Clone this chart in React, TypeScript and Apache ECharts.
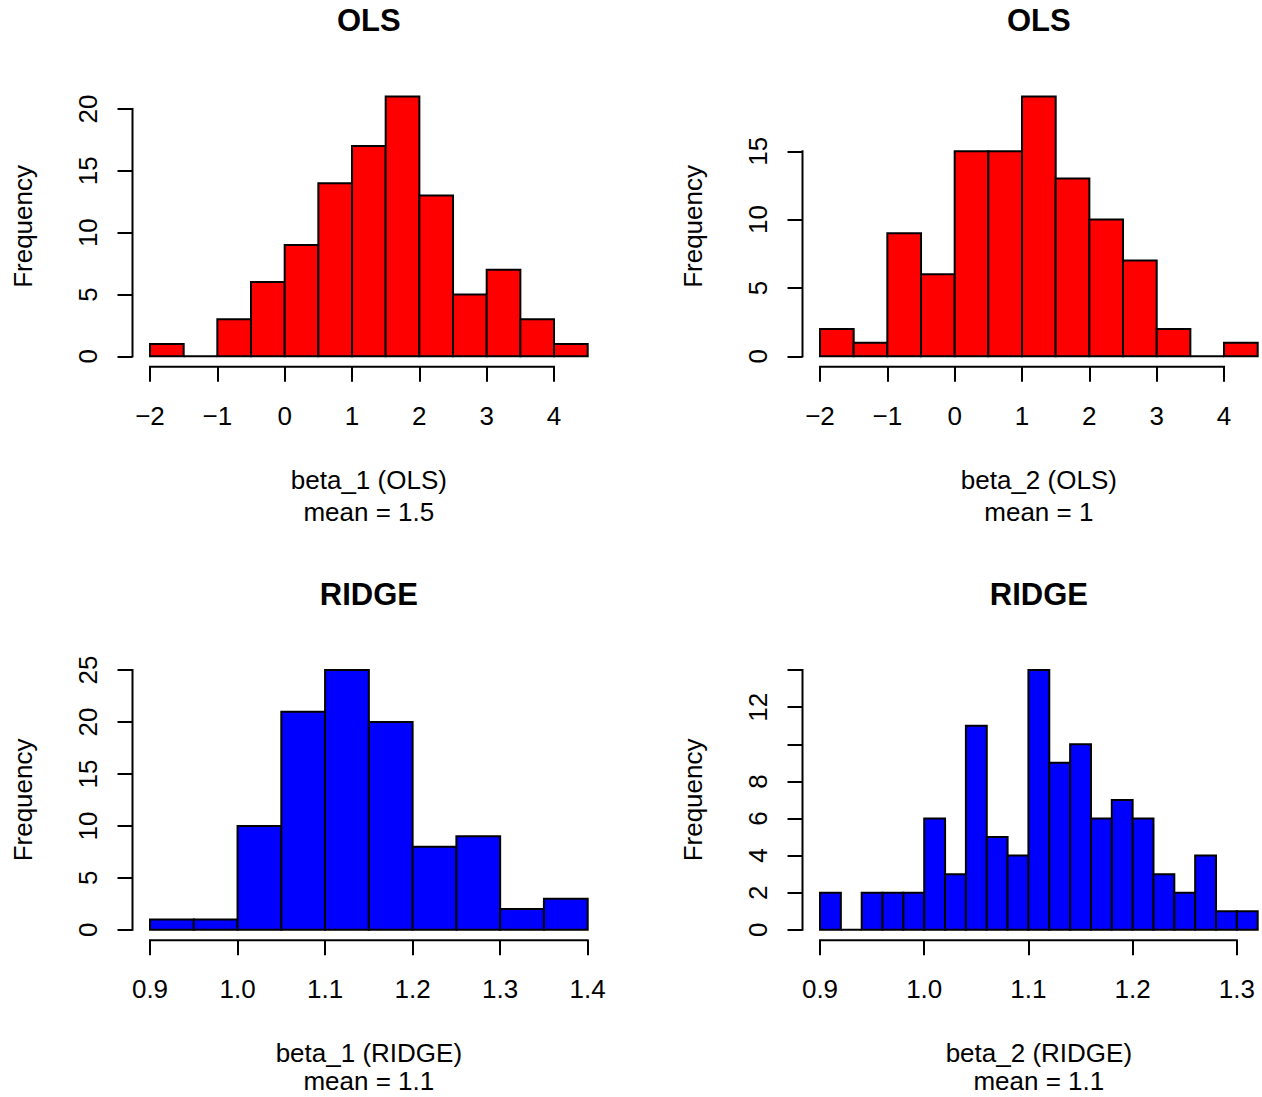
import React, { useEffect, useRef } from "react";
import * as echarts from "echarts";

// ---------- data ----------
const breaksB1Ols = [-2, -1.5, -1, -0.5, 0, 0.5, 1, 1.5, 2, 2.5, 3, 3.5, 4, 4.5];
const countsB1Ols = [1, 0, 3, 6, 9, 14, 17, 21, 13, 5, 7, 3, 1];

const breaksB2Ols = [-2, -1.5, -1, -0.5, 0, 0.5, 1, 1.5, 2, 2.5, 3, 3.5, 4, 4.5];
const countsB2Ols = [2, 1, 9, 6, 15, 15, 19, 13, 10, 7, 2, 0, 1];

const breaksB1Ridge = [0.9, 0.95, 1.0, 1.05, 1.1, 1.15, 1.2, 1.25, 1.3, 1.35, 1.4];
const countsB1Ridge = [1, 1, 10, 21, 25, 20, 8, 9, 2, 3];

const breaksB2Ridge = [0.9, 0.92, 0.94, 0.96, 0.98, 1.0, 1.02, 1.04, 1.06, 1.08, 1.1, 1.12, 1.14, 1.16, 1.18, 1.2, 1.22, 1.24, 1.26, 1.28, 1.3, 1.32];
const countsB2Ridge = [2, 0, 2, 2, 2, 6, 3, 11, 5, 4, 14, 9, 10, 6, 7, 6, 3, 2, 4, 1, 1];

const xTicksOls = [-2, -1, 0, 1, 2, 3, 4];
const xTicksB1Ridge = [0.9, 1.0, 1.1, 1.2, 1.3, 1.4];
const xTicksB2Ridge = [0.9, 1.0, 1.1, 1.2, 1.3];

const yTicksB1Ols = [0, 5, 10, 15, 20];
const yTicksB2Ols = [0, 5, 10, 15];
const yTicksB1Ridge = [0, 5, 10, 15, 20, 25];
const yTicksB2Ridge = [0, 2, 4, 6, 8, 10, 12, 14];
const yLabelsB2Ridge = [0, 2, 4, 6, 8, 12];

const titles = ["OLS", "OLS", "RIDGE", "RIDGE"];
const xNames = ["beta_1 (OLS)", "beta_2 (OLS)", "beta_1 (RIDGE)", "beta_2 (RIDGE)"];
const meanTexts = ["mean = 1.5", "mean = 1", "mean = 1.1", "mean = 1.1"];
const colors = ["#FF0000", "#FF0000", "#0000FF", "#0000FF"];

const FONT = "'Liberation Sans', Arial, Helvetica, sans-serif";

type Panel = {
  breaks: number[];
  counts: number[];
  xTicks: number[];
  xDec: number;
  yTicks: number[];
  yLabels: number[];
};

const panels: Panel[] = [
  { breaks: breaksB1Ols, counts: countsB1Ols, xTicks: xTicksOls, xDec: 0, yTicks: yTicksB1Ols, yLabels: yTicksB1Ols },
  { breaks: breaksB2Ols, counts: countsB2Ols, xTicks: xTicksOls, xDec: 0, yTicks: yTicksB2Ols, yLabels: yTicksB2Ols },
  { breaks: breaksB1Ridge, counts: countsB1Ridge, xTicks: xTicksB1Ridge, xDec: 1, yTicks: yTicksB1Ridge, yLabels: yTicksB1Ridge },
  { breaks: breaksB2Ridge, counts: countsB2Ridge, xTicks: xTicksB2Ridge, xDec: 1, yTicks: yTicksB2Ridge, yLabels: yLabelsB2Ridge },
];

const gridPos = [
  { left: 132.5, top: 86.2 },
  { left: 802.5, top: 86.2 },
  { left: 132.5, top: 659.7 },
  { left: 802.5, top: 659.7 },
];
const GW = 472.7;
const GH = 280.5;
const PAGE_H = 1097;

function fmt(v: number, dec: number) {
  const s = Math.abs(v).toFixed(dec);
  return (v < 0 ? "\u2212" : "") + s;
}

export default function App() {
  const ref = useRef<HTMLDivElement>(null);
  useEffect(() => {
    document.body.style.margin = "0";
    document.body.style.overflow = "hidden";
    if (!ref.current) return;
    const chart = echarts.init(ref.current, undefined, { renderer: "svg" });

    const grid: any[] = [];
    const xAxis: any[] = [];
    const yAxis: any[] = [];
    const series: any[] = [];
    const title: any[] = [];

    panels.forEach((p, i) => {
      const b0 = p.breaks[0];
      const bn = p.breaks[p.breaks.length - 1];
      const xr = bn - b0;
      const xmin = b0 - 0.04 * xr;
      const xmax = bn + 0.04 * xr;
      const cmax = Math.max(...p.counts);
      const ymin = -0.04 * cmax;
      const ymax = cmax * 1.04;

      grid.push({
        left: gridPos[i].left,
        top: gridPos[i].top,
        width: GW,
        height: GH,
        containLabel: false,
        outerBoundsMode: "none",
      });

      xAxis.push({
        gridIndex: i,
        type: "value",
        min: xmin,
        max: xmax,
        axisLine: { show: false, onZero: false },
        splitLine: { show: false },
        axisTick: {
          show: true,
          customValues: p.xTicks,
          length: 15,
          inside: false,
          lineStyle: { color: "#000", width: 2 },
        },
        axisLabel: {
          customValues: p.xTicks,
          formatter: (v: number) => fmt(v, p.xDec),
          margin: 36,
          fontSize: 26,
          color: "#000",
          fontFamily: FONT,
        },
        name: xNames[i],
        nameLocation: "middle",
        nameGap: 100,
        nameTextStyle: { fontSize: 26, lineHeight: 26, color: "#000", fontFamily: FONT },
      });

      yAxis.push({
        gridIndex: i,
        type: "value",
        min: ymin,
        max: ymax,
        axisLine: { show: false, onZero: false },
        splitLine: { show: false },
        axisTick: {
          show: true,
          customValues: p.yTicks,
          length: 15,
          inside: false,
          lineStyle: { color: "#000", width: 2 },
        },
        axisLabel: {
          customValues: p.yLabels,
          formatter: (v: number) => fmt(v, 0),
          rotate: 90,
          margin: 32,
          fontSize: 26,
          color: "#000",
          fontFamily: FONT,
        },
        name: "Frequency",
        nameLocation: "middle",
        nameGap: 97,
        nameTextStyle: { fontSize: 26, color: "#000", fontFamily: FONT },
      });

      const binData = p.counts.map((c, k) => [p.breaks[k], p.breaks[k + 1], c]);
      const fill = colors[i];
      series.push({
        type: "custom",
        xAxisIndex: i,
        yAxisIndex: i,
        data: binData,
        encode: { x: [0, 1], y: 2 },
        clip: false,
        silent: true,
        renderItem: (_params: any, api: any) => {
          const x0 = api.value(0);
          const x1 = api.value(1);
          const c = api.value(2);
          const a = api.coord([x0, 0]);
          const b = api.coord([x1, c]);
          return {
            type: "polygon",
            shape: { points: [[a[0], a[1]], [a[0], b[1]], [b[0], b[1]], [b[0], a[1]]] },
            style: { fill, stroke: "#000", lineWidth: 2 },
          };
        },
      });

      const xt0 = p.xTicks[0];
      const xt1 = p.xTicks[p.xTicks.length - 1];
      const yt0 = p.yTicks[0];
      const yt1 = p.yTicks[p.yTicks.length - 1];
      series.push({
        type: "custom",
        xAxisIndex: i,
        yAxisIndex: i,
        data: [[xt0, yt0]],
        clip: false,
        silent: true,
        renderItem: (_params: any, api: any) => {
          const ax0 = api.coord([xt0, ymin]);
          const ax1 = api.coord([xt1, ymin]);
          const ay0 = api.coord([xmin, yt0]);
          const ay1 = api.coord([xmin, yt1]);
          return {
            type: "group",
            children: [
              { type: "line", shape: { x1: ax0[0] - 1, y1: ax0[1], x2: ax1[0] + 1, y2: ax1[1] }, style: { stroke: "#000", lineWidth: 2 } },
              { type: "line", shape: { x1: ay0[0], y1: ay0[1] + 1, x2: ay1[0], y2: ay1[1] - 1 }, style: { stroke: "#000", lineWidth: 2 } },
            ],
          };
        },
      });

      title.push({
        text: titles[i],
        left: gridPos[i].left + GW / 2,
        top: gridPos[i].top - 81,
        textAlign: "center",
        padding: 0,
        textStyle: { fontSize: 31, fontWeight: "bold", color: "#000", fontFamily: FONT },
      });
      // keep the second x-label line fully inside the page
      const meanCenter = Math.min(gridPos[i].top + GH + 145, PAGE_H - 16);
      title.push({
        text: meanTexts[i],
        left: gridPos[i].left + GW / 2,
        top: meanCenter - 11,
        textAlign: "center",
        padding: 0,
        textStyle: { fontSize: 26, lineHeight: 22, fontWeight: "normal", color: "#000", fontFamily: FONT },
      });
    });

    chart.setOption({
      animation: false,
      backgroundColor: "#fff",
      title,
      grid,
      xAxis,
      yAxis,
      series,
    });
    return () => chart.dispose();
  }, []);
  return (
    <div style={{ width: 1262, height: 1097, overflow: "hidden", position: "relative" }}>
      <div ref={ref} style={{ width: 1340, height: 1097 }} />
    </div>
  );
}
